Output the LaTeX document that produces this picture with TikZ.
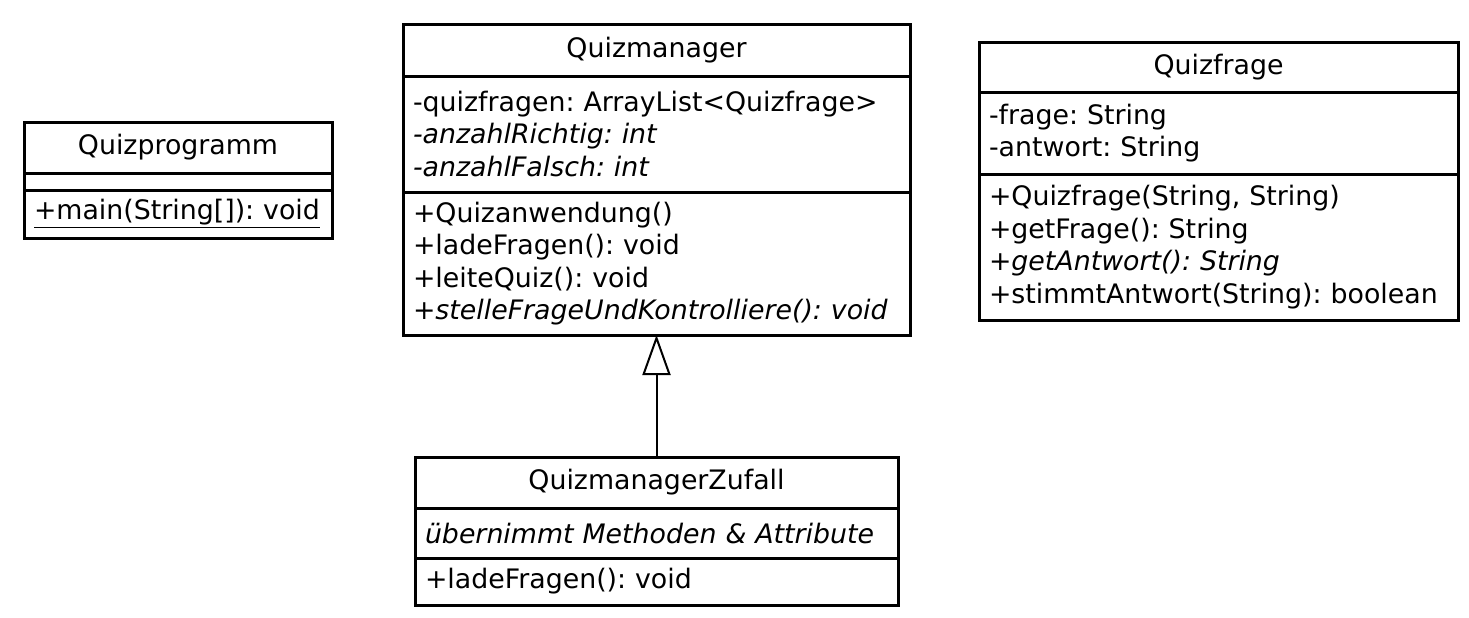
\documentclass[tikz,border=0pt]{standalone}
\usepackage{fontspec}
\setmainfont{DejaVu Sans}
\usetikzlibrary{positioning,arrows.meta}
\frenchspacing

\tikzset{
  box/.style={draw, line width=1.5pt, outer sep=0pt, inner xsep=5pt, inner ysep=0pt,
    align=left, text width=#1, font=\fontsize{13.4}{16.25}\selectfont},
  head/.style={box=#1, align=center},
  gen/.style={-{Triangle[open, width=14pt, length=20pt]}, line width=1pt},
}

\begin{document}
\begin{tikzpicture}[x=0.5pt, y=-0.5pt]
  \useasboundingbox (0,0) rectangle (1469,617);

  % Quizprogramm
  \node [head=144pt, minimum height=25.5pt, anchor=north west] (qp) at (24,122) {Quizprogramm};
  \node [box=144pt, minimum height=8.5pt, below=0pt of qp] (qpattr) {};
  \node [box=144pt, minimum height=24pt, below=0pt of qpattr] (qpmeth) {\underline{+main(String[]): void}};

  % Quizmanager
  \node [head=243.5pt, minimum height=26pt, anchor=north west] (qm) at (403,24) {Quizmanager};
  \node [box=243.5pt, minimum height=58pt, below=0pt of qm] (qmattr)
    {-quizfragen: ArrayList<Quizfrage>\\ \textit{-anzahlRichtig: int}\\ \textit{-anzahlFalsch: int}};
  \node [box=243.5pt, minimum height=71.5pt, below=0pt of qmattr] (qmmeth)
    {+Quizanwendung()\\ +ladeFragen(): void\\ +leiteQuiz(): void\\ \textit{+stelleFrageUndKontrolliere(): void}};

  % QuizmanagerZufall
  \node [head=231.5pt, minimum height=25.5pt, anchor=north west] (qz) at (415,457) {QuizmanagerZufall};
  \node [box=231.5pt, minimum height=25pt, below=0pt of qz] (qzattr) {\textit{übernimmt Methoden \& Attribute}};
  \node [box=231.5pt, minimum height=23.5pt, below=0pt of qzattr] (qzmeth) {+ladeFragen(): void};

  % Quizfrage
  \node [head=229.5pt, minimum height=25pt, anchor=north west] (qf) at (979,42) {Quizfrage};
  \node [box=229.5pt, minimum height=41pt, below=0pt of qf] (qfattr)
    {-frage: String\\ -antwort: String};
  \node [box=229.5pt, minimum height=73pt, below=0pt of qfattr] (qfmeth)
    {+Quizfrage(String, String)\\ +getFrage(): String\\ \textit{+getAntwort(): String}\\ +stimmtAntwort(String): boolean};

  \draw [gen] (qz.north) -- (qmmeth.south);
\end{tikzpicture}
\end{document}
